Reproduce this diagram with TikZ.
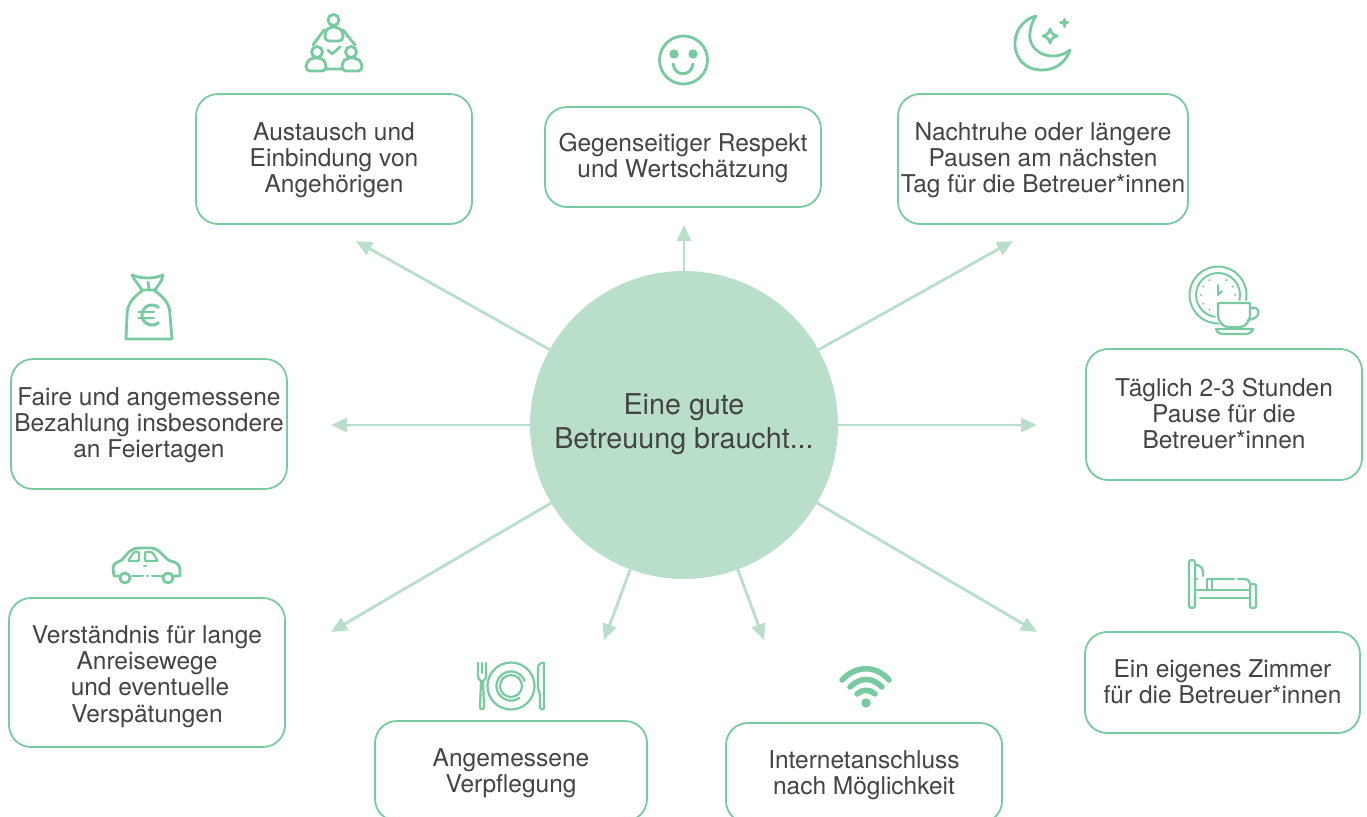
\documentclass[tikz,border=0pt]{standalone}
\usepackage{fontspec}
\setmainfont{TeX Gyre Heros}
\usetikzlibrary{arrows.meta}
\definecolor{hubgreen}{HTML}{B9DFCB}
\definecolor{linegreen}{HTML}{78CAA0}
\definecolor{inkgrey}{HTML}{444444}
\newcommand{\tallline}[1]{\rule{0pt}{#1pt}}
\newcommand{\deepline}[1]{\rule[-#1pt]{0pt}{#1pt}}
\tikzset{
	infobox/.style={draw=linegreen,line width=1.8,rounded corners=22,fill=white,inner sep=0,outer sep=0,minimum width=276,align=center,text=inkgrey,font=\fontsize{24.5}{26.3}\selectfont},
	hubnode/.style={circle,fill=hubgreen,inner sep=0,outer sep=0,minimum size=308,align=center,text=inkgrey,font=\fontsize{28.7}{34.5}\selectfont},
	spoke/.style={draw=hubgreen,line width=2.8,-{Triangle[length=16,width=14]}},
	icon/.style={draw=linegreen,line width=2.8,line cap=round,line join=round},
	iconfill/.style={fill=linegreen,draw=none},
}
\begin{document}
\begin{tikzpicture}[x=1pt,y=-1pt]
	\useasboundingbox (0,0) rectangle (1367,816);
	\node[hubnode] (hub) at (684,425) {Eine gute\\Betreuung braucht...\deepline{8}};
	\node[infobox,minimum height=130] (austausch) at (334,159) {\tallline{20}Austausch und\\Einbindung von\\Angehörigen};
	\node[infobox,minimum height=100] (respekt) at (683,157) {\tallline{20}Gegenseitiger Respekt\\und Wertschätzung};
	\node[infobox,minimum width=290,minimum height=130] (nachtruhe) at (1043,159) {\tallline{20}Nachtruhe oder längere\\Pausen am nächsten\\Tag für die Betreuer*innen};
	\node[infobox,minimum height=131] (pause) at (1224,414.5) {Täglich 2-3 Stunden\\Pause für die\\Betreuer*innen\deepline{2}};
	\node[infobox,minimum width=275,minimum height=101] (zimmer) at (1222.5,682.5) {Ein eigenes Zimmer\\für die Betreuer*innen\deepline{2}};
	\node[infobox,minimum height=130] (bezahlung) at (149,424) {\tallline{20}Faire und angemessene\\Bezahlung insbesondere\\an Feiertagen};
	\node[infobox,minimum height=149] (anreise) at (147,672.5) {\tallline{26}Verständnis für lange\\Anreisewege\\\hspace*{6pt}und eventuelle\\Verspätungen};
	\node[infobox,minimum width=272,minimum height=100] (verpflegung) at (511,771) {\tallline{22}Angemessene\\Verpflegung};
	\node[infobox,minimum height=100] (internet) at (864,773) {\tallline{22}Internetanschluss\\nach Möglichkeit};

	\coordinate (endaustausch) at (356,241);
	\coordinate (endrespekt) at (684,225);
	\coordinate (endnachtruhe) at (1013,241);
	\coordinate (endpause) at (1037,425);
	\coordinate (endzimmer) at (1037,632);
	\coordinate (endinternet) at (764,640);
	\coordinate (endverpflegung) at (604,640);
	\coordinate (endanreise) at (331,632);
	\coordinate (endbezahlung) at (331,425);
	\foreach \e in {endaustausch,endrespekt,endnachtruhe,endpause,endzimmer,endinternet,endverpflegung,endanreise,endbezahlung}
		\draw[spoke] (hub) -- (\e);

	% team
	\draw[icon] (333.5,20) circle[radius=5.5] (317,52) circle[radius=5.5] (351,52) circle[radius=5.5];
	\draw[icon,rounded corners=4] (325,41) -- (325,32) -- (329,27) -- (338,27) -- (343,32) -- (343,41) -- cycle;
	\draw[icon,rounded corners=4] (306,71) -- (306,63) -- (311,58) -- (322,58) -- (326,63) -- (326,71) -- cycle;
	\draw[icon,rounded corners=4] (342,71) -- (342,63) -- (346,58) -- (357,58) -- (362,63) -- (362,71) -- cycle;
	\draw[icon] (324,30) -- (313,45) (343,30) -- (355,45) (326,69) -- (342,69);
	\draw[icon] (328,50) -- (332,54) -- (340,47);

	% smiley
	\draw[icon] (683.5,60) circle[radius=24];
	\fill[iconfill] (674,54) circle[radius=4.7] (693,54) circle[radius=4.7];
	\draw[icon,line width=3] (673,64) .. controls (675,77) and (691,77) .. (693,64);

	% moon and stars
	\draw[icon] (1036,16) .. controls (1006,24) and (1008,70) .. (1042,70) .. controls (1056,70) and (1066,62) .. (1070,50) .. controls (1054,63) and (1027,54) .. (1030,32) .. controls (1031,25) and (1033,20) .. (1036,16) -- cycle;
	\draw[icon] (1050,29) .. controls (1051,33) and (1053,35) .. (1057,36) .. controls (1053,37) and (1051,39) .. (1050,43) .. controls (1049,39) and (1047,37) .. (1043,36) .. controls (1047,35) and (1049,33) .. (1050,29) -- cycle;
	\draw[icon,line width=3] (1064,19.5) -- (1064,26.5) (1060.5,23) -- (1067.5,23);

	% clock and cup
	\draw[icon,line width=2] (1218,295) circle[radius=28.5] (1218,295) circle[radius=22];
	\foreach \a in {30,60,120,150,180,210,240,0}
		\fill[iconfill] ({1218+17*cos(\a)},{295-17*sin(\a)}) circle[radius=1.2];
	\draw[icon,line width=2] (1218,285) -- (1218,295) -- (1222,291);
	\draw[draw=white,line width=5,fill=white] (1218,303) -- (1250,303) -- (1250,318) -- (1242,327) -- (1226,327) -- (1218,318) -- cycle (1215,328) rectangle (1254,335);
	\draw[icon,line width=2.2,fill=white] (1218,303) -- (1250,303) -- (1250,314) .. controls (1250,322) and (1245,327) .. (1240,327) -- (1228,327) .. controls (1223,327) and (1218,322) .. (1218,314) -- cycle;
	\draw[icon,line width=2.2] (1250,308) .. controls (1261,305) and (1262,319) .. (1248,320);
	\draw[icon,line width=2.2] (1216,329) -- (1253,329) .. controls (1252,333) and (1248,334) .. (1245,334) -- (1224,334) .. controls (1220,334) and (1217,333) .. (1216,329) -- cycle;

	% bed
	\draw[icon,line width=2.2,rounded corners=2.5] (1189,560) rectangle (1195,608);
	\draw[icon,line width=2.2,rounded corners=2] (1250,584) rectangle (1256,608);
	\draw[icon,line width=2.2] (1195,590) -- (1250,590) (1200,598) -- (1250,598) (1195,579) -- (1197,579);
	\draw[icon,line width=2.2] (1207,579) -- (1234,579) (1238,579) -- (1244,579) .. controls (1248,579) and (1250,581) .. (1250,584);
	\draw[icon,line width=2.2] (1195,565) .. controls (1201,564) and (1204,570) .. (1203,576);
	\draw[icon,line width=2.2] (1207,580) -- (1207,589) (1212,580) -- (1212,589);

	% money bag
	\draw[icon] (132,275) .. controls (142,279) and (154,279) .. (163,275) .. controls (163,280) and (158,285) .. (155,290) -- (142,290) .. controls (139,285) and (134,280) .. (132,275) -- cycle;
	\draw[icon] (142,291) .. controls (132,298) and (127,305) .. (127,315) -- (126,339) -- (172,339) -- (170,315) .. controls (170,305) and (165,298) .. (155,291);
	\draw[icon] (148,282) -- (149,289);
	\draw[icon,line width=3] plot[domain=50:310,samples=30] ({152+10*cos(\x)},{315-10*sin(\x)});
	\draw[icon,line width=2.6] (138.5,312) -- (154,312) (138.5,318) -- (154,318);

	% car
	\draw[icon] (119,576) -- (114,576) -- (113,568) .. controls (113,563) and (118,562) .. (122,560) .. controls (127,554) and (130,548) .. (140,548) -- (152,548) .. controls (160,549) and (164,558) .. (170,561) .. controls (176,562) and (180,564) .. (180,570) -- (180,576) -- (174,576);
	\draw[icon] (125,578) circle[radius=5] (168,578) circle[radius=5];
	\draw[icon,line width=2.2,rounded corners=1] (128,561) -- (134,552) -- (139,552) -- (139,561) -- cycle;
	\draw[icon,line width=2.2,rounded corners=1] (145,552) -- (152,552) -- (158,561) -- (145,561) -- cycle;
	\draw[icon,line width=2] (144,566) -- (146,566) (132,576) -- (143,576) (147,576) -- (148,576) (152,576) -- (162,576);

	% plate and cutlery
	\draw[icon,line width=2.2] (511,686) circle[radius=23.5] (511,686) circle[radius=11];
	\draw[icon,line width=2.2] plot[domain=20:305,samples=40] ({511+14.5*cos(\x)},{686-14.5*sin(\x)});
	\draw[icon,line width=2.2] (478,663) -- (478,675) .. controls (478,679) and (480,680) .. (481,681) -- (480,707) .. controls (480,710) and (484,710) .. (484,707) -- (483,681) .. controls (485,680) and (486,679) .. (486,675) -- (486,663) (482,663) -- (482,673);
	\draw[icon,line width=2.2] (538,688) -- (538,668) .. controls (538,664) and (542,662) .. (544,663) -- (544,708) .. controls (544,710) and (540,710) .. (540,707) -- (540,695) -- cycle;

	% wifi
	\fill[iconfill] (866,703) circle[radius=4.7];
	\draw[icon,line width=5.6] (842,680) .. controls (856,665) and (876,665) .. (889,680);
	\draw[icon,line width=5.6] (850,687) .. controls (860,677) and (872,677) .. (882,687);
	\draw[icon,line width=5.6] (857,694) .. controls (862,689) and (870,689) .. (875,694);
\end{tikzpicture}
\end{document}
